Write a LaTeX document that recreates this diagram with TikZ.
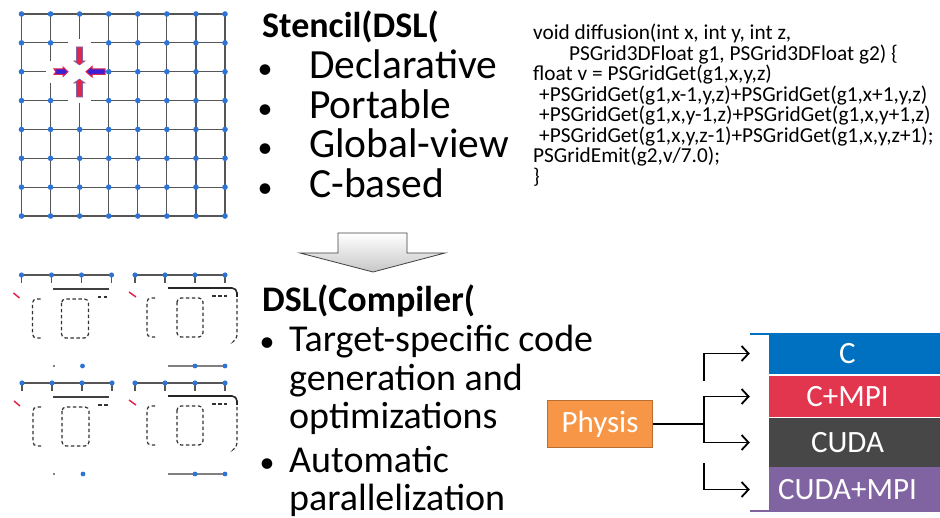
\documentclass[tikz,border=0pt]{standalone}
\usepackage{fontspec}
\setmainfont{Carlito}
\usetikzlibrary{arrows.meta}
\newcommand\myfs[1]{\fontsize{#1}{#1}\selectfont}
\definecolor{dotblue}{HTML}{2E73D6}
\definecolor{gridgray}{HTML}{555555}
\definecolor{stblue}{HTML}{0070C0}
\definecolor{stred}{HTML}{E2364F}
\definecolor{stgray}{HTML}{474747}
\definecolor{stpurple}{HTML}{8064A2}
\definecolor{physorange}{HTML}{F79646}
\definecolor{physborder}{HTML}{B86E30}
\definecolor{arrred}{HTML}{E0264C}
\definecolor{arrblue}{HTML}{3A1FD8}
\tikzset{
  gridl/.style={draw=gridgray, line width=1.2pt},
  dsh/.style={draw=black!80, line width=1.2pt, dash pattern=on 3.5pt off 2.5pt},
  code/.style={anchor=base west, inner sep=0pt, font=\myfs{21.3}},
  big/.style={anchor=base west, inner sep=0pt, font=\myfs{41.5}},
  bigb/.style={anchor=base west, inner sep=0pt, font=\myfs{38}},
  head/.style={anchor=base west, inner sep=0pt, font=\bfseries\myfs{36}},
  bul/.style={anchor=base, inner sep=0pt, font=\myfs{30}},
  stackbox/.style={minimum width=195pt, inner sep=0pt, text=white, font=\myfs{31}},
  conn/.style={draw=black, line width=1.8pt},
  arr/.style={conn, -{Straight Barb[length=7pt,width=15pt,line width=1.8pt]}},
  tileA/.pic={
    \draw[gridl] (0,0) -- (90,0);
    \foreach \d in {0,30,60,90} {\draw[gridl] (\d,0) -- (\d,8); \fill[dotblue] (\d,0) circle (2.6);}
    \draw[line width=1.6pt, black!75] (31,14) -- (87,14);
    \draw[dsh, rounded corners=4pt] (19,24) -- (11,24) -- (11,63) -- (19,63);
    \draw[dsh, rounded corners=4pt] (40,24) rectangle (67,63);
    \draw[dsh] (76,22) -- (86,22);
    \draw[arrred, line width=1.5pt] (-8,18) -- (-2,23);
    \draw[gridl, gray] (31,91) -- (33,91);
    \fill[dotblue] (61,91) circle (2.4);
  },
  tileB/.pic={
    \draw[gridl] (0,0) -- (90,0);
    \foreach \d in {0,30,60,90} {\draw[gridl] (\d,0) -- (\d,8); \fill[dotblue] (\d,0) circle (2.6);}
    \draw[line width=1.6pt, black!85, rounded corners=5pt] (33,13) -- (102,13) -- (102,22);
    \draw[dsh, rounded corners=4pt] (102,24) -- (102,64) -- (99,66);
    \draw[dsh, rounded corners=4pt] (20,23) -- (12,23) -- (12,62) -- (20,62);
    \draw[dsh, rounded corners=4pt] (42,23) rectangle (68,62);
    \draw[dsh] (77,21) -- (92,21);
    \draw[arrred, line width=1.5pt] (-6,17) -- (1,22);
    \draw[gridl, gray] (33,91) -- (90,91);
    \fill[dotblue] (60,91) circle (2.4);
    \fill[dotblue] (90,91) circle (2.4);
  }
}
\begin{document}
\begin{tikzpicture}[x=1pt,y=-1pt]
\useasboundingbox (0,0) rectangle (940,518);
% ---------- stencil grid ----------
\foreach \i in {0,...,7} {
  \draw[gridl] ({21.5+29.07*\i},14) -- ({21.5+29.07*\i},216);
  \draw[gridl] (21.5,{14+28.86*\i}) -- (225,{14+28.86*\i});
}
\fill[white] (46,61) rectangle (105,83);
\fill[white] (68,39) rectangle (91,103);
\foreach \i in {0,...,7} {
  \foreach \j in {0,...,7} {
    \pgfmathtruncatemacro\hid{(\i==1 && \j==2) || (\i==2 && \j==2) || (\i==2 && \j==1) || (\i==2 && \j==3)}
    \ifnum\hid=0
      \fill[dotblue] ({21.5+29.07*\i},{14+28.86*\j}) circle (2.8);
    \fi
  }
}
% stencil arrows
\filldraw[fill=arrred, draw=stpurple, line width=0.6pt] (76.5,47) -- (82.5,47) -- (82.5,61) -- (85,61) -- (79.5,65) -- (74,61) -- (76.5,61) -- cycle;
\filldraw[fill=arrred, draw=stpurple, line width=0.6pt] (76.5,97) -- (82.5,97) -- (82.5,83) -- (85,83) -- (79.5,79) -- (74,83) -- (76.5,83) -- cycle;
\filldraw[fill=arrblue, draw=arrred, line width=1pt] (54,69) -- (63,69) -- (63,67) -- (68,71.7) -- (63,76.5) -- (63,74.5) -- (54,74.5) -- (56,71.7) -- cycle;
\filldraw[fill=arrblue, draw=arrred, line width=1pt] (105,69) -- (92,69) -- (92,66.5) -- (86,71.7) -- (92,77) -- (92,74.5) -- (105,74.5) -- cycle;
% ---------- tiles ----------
\pic at (21.5,275) {tileA};
\pic at (135,275) {tileB};
\pic at (22,383) {tileA};
\pic at (135,383) {tileB};
% ---------- headings and bullets ----------
\node[head] (h1) at (262,38) {Stencil(DSL(};
\node[bul] (b1) at (265,79) {•};
\node[big] (t1) at (309,79) {Declarative};
\node[bul] (b2) at (265,119) {•};
\node[big] (t2) at (309,119) {Portable};
\node[bul] (b3) at (265,158) {•};
\node[big] (t3) at (309,158) {Global-view};
\node[bul] (b4) at (265,198) {•};
\node[big] (t4) at (309,198) {C-based};
\node[head] (h2) at (262,312) {DSL(Compiler(};
\node[bul] (b5) at (267,352) {•};
\node[bigb] (u1) at (289,352) {Target-specific code};
\node[bigb] (u2) at (289,391) {generation and};
\node[bigb] (u3) at (289,429) {optimizations};
\node[bul] (b6) at (267,472) {•};
\node[bigb] (u4) at (289,472) {Automatic};
\node[bigb] (u5) at (289,510) {parallelization};
% ---------- code ----------
\node[code] (c1) at (533,40) {void diffusion(int x, int y, int z,};
\node[code] (c2) at (569,60.5) {PSGrid3DFloat g1, PSGrid3DFloat g2) \{};
\node[code] (c3) at (533,81) {float v = PSGridGet(g1,x,y,z)};
\node[code] (c4) at (539,101.5) {+PSGridGet(g1,x-1,y,z)+PSGridGet(g1,x+1,y,z)};
\node[code] (c5) at (539,122) {+PSGridGet(g1,x,y-1,z)+PSGridGet(g1,x,y+1,z)};
\node[code] (c6) at (539,142.5) {+PSGridGet(g1,x,y,z-1)+PSGridGet(g1,x,y,z+1);};
\node[code] (c7) at (533,163) {PSGridEmit(g2,v/7.0);};
\node[code] (c8) at (533,183.5) {\}};
% ---------- big down arrow ----------
\shade[top color=white, bottom color=black!22, draw=black!75, line width=0.8pt]
  (338,233) -- (407,233) -- (407,253) -- (445,253) -- (373,272) -- (300,253) -- (338,253) -- cycle;
% ---------- physis and targets ----------
\node[draw=physborder, fill=physorange, line width=1.5pt, minimum width=105pt, minimum height=47pt, text=white, font=\myfs{31}] (phys) at (600,424) {Physis};
\node[stackbox, fill=stblue, minimum height=41pt] (tc) at (847.5,353.5) {C};
\node[stackbox, fill=stred, minimum height=41pt] (tmpi) at (847.5,396.5) {C+MPI};
\node[stackbox, fill=stgray, minimum height=49pt] (tcuda) at (847.5,442.5) {CUDA};
\node[stackbox, fill=stpurple, minimum height=45pt] (tcm) at (847.5,489.5) {CUDA+MPI};
\fill[white] (749,335.5) rectangle (768.5,510);
\fill[white] (749,374.2) rectangle (945,375.6);
\coordinate (j) at (704,424);
\coordinate (ja) at (704,381);
\coordinate (jb) at (704,463);
\draw[conn] (phys.east) -- (j);
\draw[arr] (j) |- (tmpi.west);
\draw[arr] (j) |- (tcuda.west);
\draw[arr] (ja) |- (tc.west);
\draw[arr] (jb) |- (tcm.west);
\end{tikzpicture}
\end{document}
